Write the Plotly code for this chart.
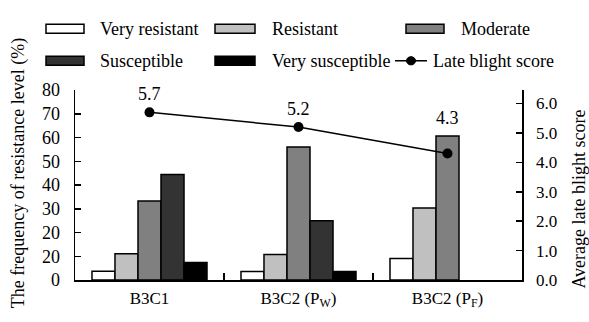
import plotly.graph_objects as go

# ---------------- data ----------------
categories = ["B3C1", "B3C2 (P<sub>W</sub>)", "B3C2 (P<sub>F</sub>)"]
very_resistant = [3.7, 3.6, 9.1]
resistant = [11.1, 10.7, 30.3]
moderate = [33.3, 56.0, 60.6]
susceptible = [44.4, 25.0, None]
very_susceptible = [7.4, 3.6, None]
late_blight_score = [5.7, 5.2, 4.3]
score_labels = ["5.7", "5.2", "4.3"]

left_tick_vals = [0, 10, 20, 30, 40, 50, 60, 70, 80]
left_tick_text = ["0", "20", "20", "30", "40", "50", "60", "70", "80"]
right_tick_vals = [0, 1, 2, 3, 4, 5, 6]
right_tick_text = ["0.0", "1.0", "2.0", "3.0", "4.0", "5.0", "6.0"]

series_names = ["Very resistant", "Resistant", "Moderate", "Susceptible", "Very susceptible"]
series_values = [very_resistant, resistant, moderate, susceptible, very_susceptible]
series_colors = ["#ffffff", "#c0c0c0", "#808080", "#333333", "#000000"]
line_name = "Late blight score"

# ---------------- layout constants ----------------
W, H = 589, 322
L, R, T, B = 75, 67, 90, 24
PW, PH = W - L - R, H - T - B
FONT = "Liberation Serif, Times New Roman, Times, serif"
label_shift = [18, 18, 36]


def px(x):
    return (x - L) / PW


def py(y):
    return (H - B - y) / PH


fig = go.Figure()
for name, vals, col in zip(series_names, series_values, series_colors):
    fig.add_trace(go.Bar(
        x=categories, y=vals, name=name,
        marker=dict(color=col, line=dict(color="black", width=1.5)),
        showlegend=False,
    ))

fig.add_trace(go.Scatter(
    x=categories, y=late_blight_score, name=line_name, yaxis="y2",
    mode="lines+markers",
    line=dict(color="black", width=1.5),
    marker=dict(color="black", size=10),
    showlegend=False,
))

annotations = []
for c, v, t, s in zip(categories, late_blight_score, score_labels, label_shift):
    annotations.append(dict(x=c, y=v, xref="x", yref="y2", text=t, showarrow=False,
                            yshift=s, font=dict(family=FONT, size=18, color="black")))

# axis titles
annotations.append(dict(x=px(18), y=py(181), xref="paper", yref="paper",
                        text="The frequency of resistance level (%)", textangle=-90,
                        showarrow=False, xanchor="center", yanchor="middle",
                        font=dict(family=FONT, size=18, color="black")))
annotations.append(dict(x=px(579), y=py(210), xref="paper", yref="paper",
                        text="Average late blight score", textangle=-90,
                        showarrow=False, xanchor="center", yanchor="middle",
                        font=dict(family=FONT, size=18, color="black")))

# manual legend
shapes = []
legend_slots = [  # (swatch x0, swatch x1, text x, row center y)
    (46, 84, 98, 23), (215, 255, 270, 23), (406, 444, 459, 23),
    (46, 84, 98, 58), (215, 255, 270, 58),
]
for (x0, x1, tx, cy), name, col in zip(legend_slots, series_names, series_colors):
    shapes.append(dict(type="rect", xref="paper", yref="paper",
                       x0=px(x0), x1=px(x1), y0=py(cy + 5), y1=py(cy - 5),
                       fillcolor=col, line=dict(color="black", width=1.5)))
    annotations.append(dict(x=px(tx), y=py(cy), xref="paper", yref="paper", text=name,
                            showarrow=False, xanchor="left", yanchor="middle",
                            font=dict(family=FONT, size=18, color="black")))
# line legend
lx0, lx1, ltx, lcy = 395, 427, 431, 58
shapes.append(dict(type="line", xref="paper", yref="paper",
                   x0=px(lx0), x1=px(lx1), y0=py(lcy), y1=py(lcy),
                   line=dict(color="black", width=1.5)))
lr = 4.5
shapes.append(dict(type="circle", xref="paper", yref="paper",
                   x0=px((lx0 + lx1) / 2 - lr), x1=px((lx0 + lx1) / 2 + lr),
                   y0=py(lcy + lr), y1=py(lcy - lr),
                   fillcolor="black", line=dict(color="black", width=1)))
annotations.append(dict(x=px(ltx), y=py(lcy), xref="paper", yref="paper", text=line_name,
                        showarrow=False, xanchor="left", yanchor="middle",
                        font=dict(family=FONT, size=18, color="black")))

fig.update_layout(
    width=W, height=H,
    margin=dict(l=L, r=R, t=T, b=B, pad=0),
    paper_bgcolor="white", plot_bgcolor="white",
    barmode="group", bargap=0.228, bargroupgap=0,
    font=dict(family=FONT, size=17, color="black"),
    xaxis=dict(type="category", range=[-0.5, 2.5], showline=True, linecolor="black",
               linewidth=1.5, ticks="inside", tickson="boundaries", ticklen=7,
               tickwidth=1.5, tickcolor="black", showgrid=False, zeroline=False,
               tickfont=dict(family=FONT, size=17), ticklabelstandoff=2),
    yaxis=dict(range=[0, 80], tickvals=left_tick_vals, ticktext=left_tick_text,
               showline=True, linecolor="black", linewidth=1.5, ticks="inside",
               ticklen=6, tickwidth=1.5, tickcolor="black", showgrid=False,
               zeroline=False, tickfont=dict(family=FONT, size=18), ticklabelstandoff=10),
    yaxis2=dict(range=[0, 6.46], tickvals=right_tick_vals, ticktext=right_tick_text,
                overlaying="y", side="right", showline=True, linecolor="black",
                linewidth=1.5, ticks="inside", ticklen=6, tickwidth=1.5, tickcolor="black",
                showgrid=False, zeroline=False, tickfont=dict(family=FONT, size=17),
                ticklabelstandoff=9),
    shapes=shapes, annotations=annotations,
    showlegend=False,
)

fig.write_html("out.html", config={"displayModeBar": False, "staticPlot": True},
               post_script="document.body.style.margin='0px';")
